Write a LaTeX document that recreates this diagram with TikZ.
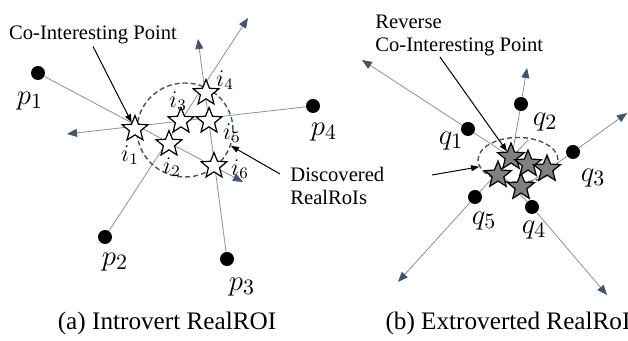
\documentclass[tikz,border=0pt]{standalone}
\usepackage{fontspec}
\setmainfont{Liberation Serif}
\usetikzlibrary{shapes.geometric, arrows.meta}
\definecolor{slate}{RGB}{68,84,106}
\definecolor{raygray}{RGB}{128,146,172}
\definecolor{stargray}{RGB}{128,128,128}
\begin{document}
\begin{tikzpicture}[x=0.5pt, y=-0.5pt]
  % Styles
  \tikzstyle{blob}=[circle, fill=black, minimum size=7pt, inner sep=0pt]
  \tikzstyle{ostar}=[star, star points=5, star point ratio=2.3, draw, fill=white, minimum size=13.5pt, inner sep=0pt, line width=0.6pt]
  \tikzstyle{gstar}=[ostar, fill=stargray, minimum size=14pt]
  \tikzstyle{roi}=[ellipse, draw=slate, dash pattern=on 2.5pt off 1.5pt, line width=0.7pt, inner sep=0pt]
  \tikzstyle{ray}=[raygray, line width=0.4pt, -{Triangle[length=5pt, width=4pt, color=slate]}]
  \tikzstyle{seg}=[raygray, line width=0.4pt]
  \tikzstyle{note}=[black, line width=0.5pt, -{Triangle[length=4pt, width=3pt]}]
  \tikzstyle{lab}=[font=\fontsize{10.3}{11.5}\selectfont, align=left, inner sep=1pt]
  \tikzstyle{plab}=[font=\fontsize{15}{17}\selectfont, inner sep=0pt]
  \tikzstyle{ilab}=[font=\fontsize{12}{14}\selectfont, inner sep=0pt]
  \tikzstyle{captxt}=[font=\fontsize{12.6}{15}\selectfont]

  \useasboundingbox (0,0) rectangle (628,341);

  % (a) Introvert
  \node[blob] (p1) at (38,73) {};
  \node[blob] (p2) at (105,237) {};
  \node[blob] (p3) at (227,259) {};
  \node[blob] (p4) at (313,106) {};
  \coordinate (e1) at (243,182);
  \coordinate (e2) at (248,18);
  \coordinate (e3) at (198,39);
  \coordinate (e4) at (67,134);
  \draw[ray] (p1) -- (e1);
  \draw[ray] (p2) -- (e2);
  \draw[ray] (p3) -- (e3);
  \draw[ray] (p4) -- (e4);

  \node[roi, minimum width=48pt, minimum height=47pt] (roiA) at (185,130) {};

  \node[ostar] (i1) at (135,129) {};
  \node[ostar] (i2) at (169,144) {};
  \node[ostar] (i3) at (181,121) {};
  \node[ostar] (i4) at (206,93) {};
  \node[ostar] (i5) at (209,121) {};
  \node[ostar] (i6) at (214,166) {};

  \node[ilab] (li1) at (130,155) {$i_1$};
  \node[ilab] (li2) at (172,167) {$i_2$};
  \node[ilab] (li3) at (178,101) {$i_3$};
  \node[ilab] (li4) at (225,80) {$i_4$};
  \node[ilab] (li5) at (232,133) {$i_5$};
  \node[ilab] (li6) at (240,169) {$i_6$};

  \node[plab] (lp1) at (30,101) {$p_1$};
  \node[plab] (lp2) at (115,262) {$p_2$};
  \node[plab] (lp3) at (242,287) {$p_3$};
  \node[plab] (lp4) at (324,132) {$p_4$};

  \node[lab] (coi) at (93,35) {Co-Interesting Point};
  \draw[note] (coi.south) -- (i1);

  \node[lab, anchor=west] (disc) at (288,186) {Discovered\\RealRoIs};
  \coordinate (t1) at (280,174);
  \draw[note] (t1) -- (roiA.-19);

  % (b) Extroverted
  \node[blob] (q1) at (468,129) {};
  \node[blob] (q2) at (521,104) {};
  \node[blob] (q3) at (573,152) {};
  \node[blob] (q4) at (532,207) {};
  \node[blob] (q5) at (475,197) {};
  \coordinate (b1) at (520,163);
  \coordinate (b2) at (513,150);
  \coordinate (b3) at (525,186);
  \coordinate (b4) at (495,168);
  \coordinate (b5) at (528,140);
  \coordinate (f1) at (362,60);
  \coordinate (f2) at (527,68);
  \coordinate (f3) at (627,113);
  \coordinate (f4) at (607,295);
  \coordinate (f5) at (398,282);
  \foreach \k in {1,...,5}{
    \draw[seg] (b\k) -- (q\k);
    \draw[ray] (q\k) -- (f\k);
  }

  \node[roi, minimum width=40pt, minimum height=22.5pt] (roiB) at (518,160) {};

  \node[gstar] (s1) at (511,157) {};
  \node[gstar] (s2) at (528,164) {};
  \node[gstar] (s3) at (547,169) {};
  \node[gstar] (s4) at (498,175) {};
  \node[gstar] (s5) at (521,187) {};

  \node[plab] (lq1) at (451,141) {$q_1$};
  \node[plab] (lq2) at (545,122) {$q_2$};
  \node[plab] (lq3) at (593,178) {$q_3$};
  \node[plab] (lq4) at (534,230) {$q_4$};
  \node[plab] (lq5) at (484,221) {$q_5$};

  \node[lab, anchor=west] (rcoi) at (373,35) {Reverse\\Co-Interesting Point};
  \coordinate (t3) at (440,57);
  \draw[note] (t3) -- (s1);

  \coordinate (t2) at (432,175);
  \draw[note] (t2) -- (roiB.190);

  % Captions
  \node[captxt] (capa) at (167,323) {(a) Introvert RealROI};
  \node[captxt] (capb) at (508,323) {(b) Extroverted RealRoI};
\end{tikzpicture}
\end{document}
